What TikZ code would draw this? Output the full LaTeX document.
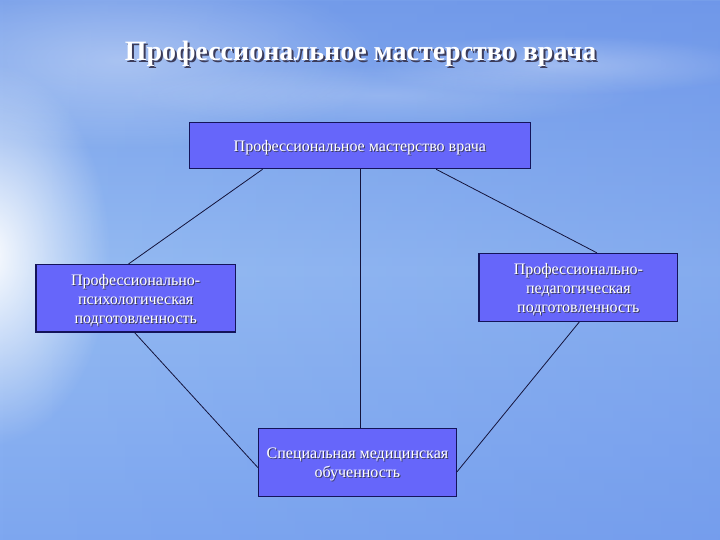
\documentclass[tikz,border=0pt]{standalone}
\usepackage{fontspec}
\setmainfont{Liberation Serif}
\usetikzlibrary{fadings,calc}
\definecolor{bgtop}{RGB}{118,158,234}
\definecolor{bgmid}{RGB}{150,188,242}
\definecolor{bgbot}{RGB}{126,167,240}
\definecolor{bgdark}{RGB}{100,140,232}
\definecolor{boxfill}{RGB}{102,102,250}
\definecolor{boxline}{RGB}{20,20,90}
\definecolor{linkcol}{RGB}{20,20,60}
\definecolor{shadowcol}{RGB}{60,60,90}
\tikzfading[name=glowfade, inner color=transparent!0, outer color=transparent!100]
\tikzfading[name=rightfade, left color=transparent!100, right color=transparent!0]
\newcommand{\shtxt}[2][1pt]{\leavevmode\rlap{\raisebox{-#1}{\kern#1\textcolor{shadowcol}{#2}}}#2}
\newcommand{\btxt}[1]{\raisebox{-2.5pt}[\height][\depth]{\shtxt{#1}}}
\tikzset{
  stepbox/.style={draw=boxline, line width=1.1pt, fill=boxfill, text=white,
    align=center, inner sep=0pt, font=\fontsize{16}{19}\selectfont},
  link/.style={draw=linkcol, line width=0.8pt},
  titletext/.style={text=white, font=\fontsize{28}{32}\bfseries\selectfont}
}
\begin{document}
\begin{tikzpicture}[x=1pt,y=-1pt]
\useasboundingbox (0,0) rectangle (720,540);
% background
\shade[top color=bgtop, bottom color=bgbot, middle color=bgmid] (0,0) rectangle (720,540);
\fill[bgdark, opacity=0.35, path fading=rightfade] (0,0) rectangle (720,540);
\fill[white, opacity=0.95, path fading=glowfade] (-10,255) ellipse (120 and 190);
\fill[white, opacity=0.35, path fading=glowfade] (120,60) ellipse (260 and 90);
\fill[white, opacity=0.3, path fading=glowfade] (560,65) ellipse (200 and 30);
\fill[white, opacity=0.2, path fading=glowfade] (380,95) ellipse (260 and 30);
% title
\node[titletext] (title) at (360.5,55) {\shtxt[2pt]{Профессиональное мастерство врача}};
% boxes
\node[stepbox, minimum width=340.5pt, minimum height=46.5pt] (top) at (359.8,145.5)
  {\btxt{Профессиональное мастерство врача}};
\node[stepbox, minimum width=199.5pt, minimum height=67.5pt] (left) at (135.75,298.25)
  {\btxt{Профессионально-}\\\btxt{психологическая}\\\btxt{подготовленность}};
\node[stepbox, minimum width=198.7pt, minimum height=68pt] (right) at (578.35,287.35)
  {\btxt{Профессионально-}\\\btxt{педагогическая}\\\btxt{подготовленность}};
\node[stepbox, minimum width=198pt, minimum height=67.8pt] (bot) at (357.45,462.3)
  {\btxt{Специальная медицинская}\\\btxt{обученность}};
% connectors
\draw[link] ([xshift=-97.2pt]top.south) -- ([xshift=-7.2pt]left.north);
\draw[link] ([xshift=0.6pt]top.south) -- ([xshift=0.6pt]top.south |- bot.north);
\draw[link] ([xshift=76.4pt]top.south) -- ([xshift=18.5pt]right.north);
\draw[link] ([xshift=-1.2pt]left.south) -- ([yshift=-5.3pt]bot.west);
\draw[link] ([xshift=1pt]right.south) -- ([yshift=-9.5pt]bot.east);
\end{tikzpicture}
\end{document}
